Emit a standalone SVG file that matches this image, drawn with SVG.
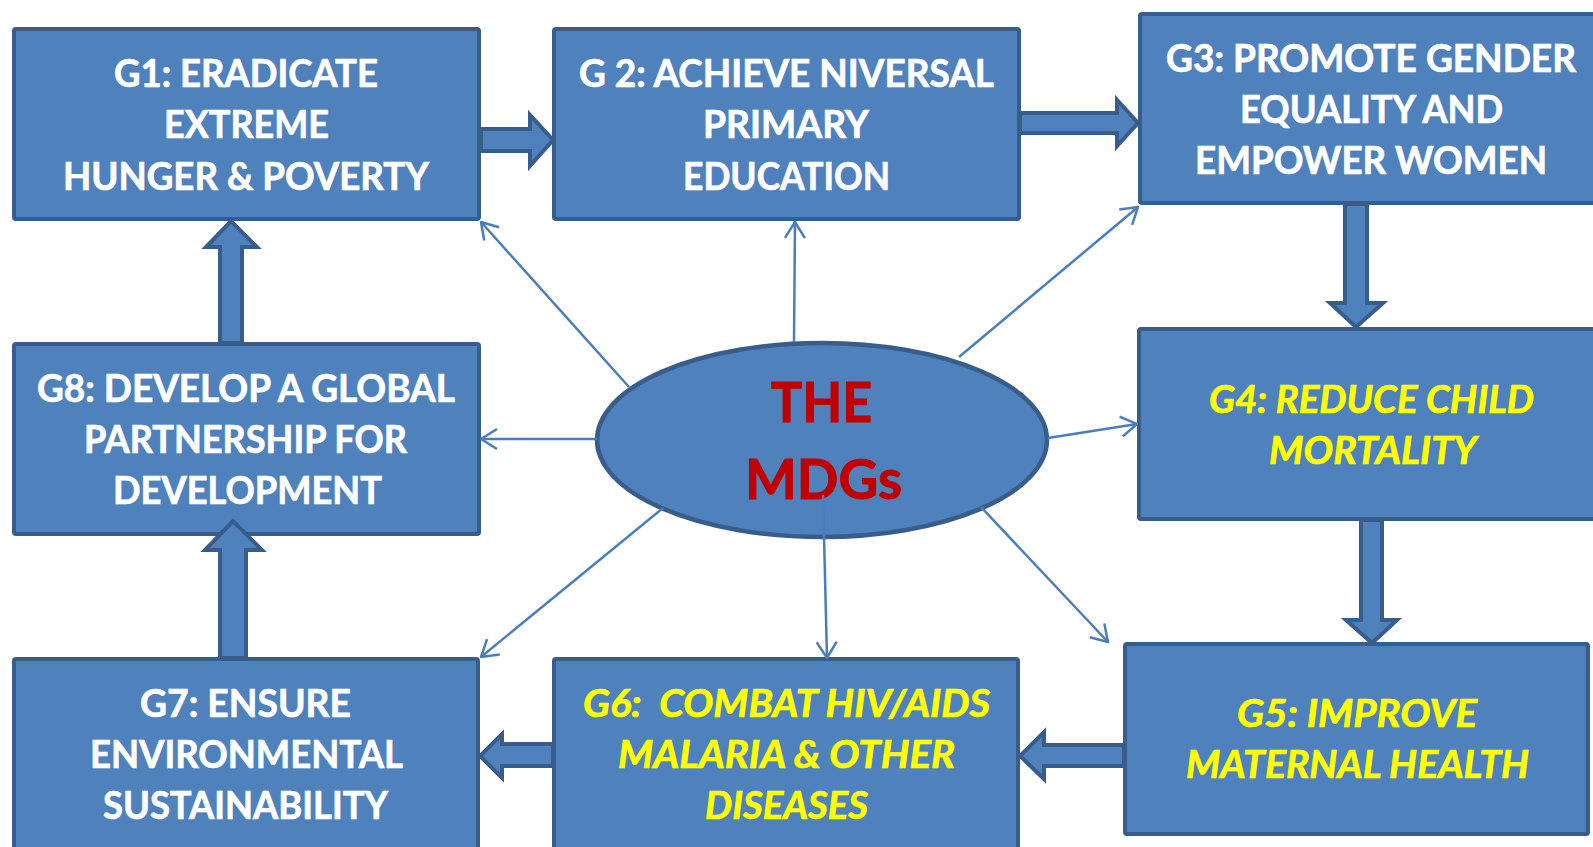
<svg xmlns="http://www.w3.org/2000/svg" width="1593" height="847" viewBox="0 0 1593 847">
<style>
.box{fill:#4F81BD;stroke:#385D8A;stroke-width:4}
.blk{fill:#4F81BD;stroke:#385D8A;stroke-width:4;stroke-linejoin:miter}
.t{font-family:Lato,"Open Sans","Liberation Sans",sans-serif;font-weight:bold;font-size:38px;text-anchor:middle;fill:#FFFFFF;stroke:#FFFFFF;stroke-width:0.7}
.y{fill:#FFFF00;stroke:#FFFF00;font-style:italic}
.m{font-family:Lato,"Open Sans","Liberation Sans",sans-serif;font-weight:bold;font-size:56px;text-anchor:middle;fill:#C00000;stroke:#C00000;stroke-width:1}
.con{fill:none;stroke:#4A7EBB;stroke-width:2.5}
</style>
<defs>
<marker id="open" viewBox="0 0 18 22" refX="17" refY="11" markerWidth="18" markerHeight="22" markerUnits="userSpaceOnUse" orient="auto">
<path d="M1,1 L17,11 L1,21" fill="none" stroke="#4A7EBB" stroke-width="2.5"/>
</marker>
</defs>
<rect width="1593" height="847" fill="#FFFFFF"/>

<g id="G1">
<rect class="box" x="14" y="29" width="465" height="190" rx="2"/>
<text class="t" x="246" y="87" textLength="264" lengthAdjust="spacingAndGlyphs">G1: ERADICATE</text>
<text class="t" x="246.5" y="138" textLength="165" lengthAdjust="spacingAndGlyphs">EXTREME</text>
<text class="t" x="246" y="190" textLength="366" lengthAdjust="spacingAndGlyphs">HUNGER &amp; POVERTY</text>
</g>
<g id="G2">
<rect class="box" x="554" y="29" width="465" height="190" rx="2"/>
<text class="t" x="786.5" y="87" textLength="415" lengthAdjust="spacingAndGlyphs">G 2: ACHIEVE NIVERSAL</text>
<text class="t" x="786" y="138" textLength="166" lengthAdjust="spacingAndGlyphs">PRIMARY</text>
<text class="t" x="786.5" y="190" textLength="207" lengthAdjust="spacingAndGlyphs">EDUCATION</text>
</g>
<g id="G3">
<rect class="box" x="1140" y="14" width="470" height="189" rx="2"/>
<text class="t" x="1371" y="72" textLength="410" lengthAdjust="spacingAndGlyphs">G3: PROMOTE GENDER</text>
<text class="t" x="1371.5" y="123" textLength="263" lengthAdjust="spacingAndGlyphs">EQUALITY AND</text>
<text class="t" x="1371" y="174" textLength="352" lengthAdjust="spacingAndGlyphs">EMPOWER WOMEN</text>
</g>
<g id="G4">
<rect class="box" x="1139" y="329" width="470" height="190" rx="2"/>
<text class="t y" x="1371.5" y="413" textLength="325" lengthAdjust="spacingAndGlyphs">G4: REDUCE CHILD</text>
<text class="t y" x="1373" y="464" textLength="208" lengthAdjust="spacingAndGlyphs">MORTALITY</text>
</g>
<g id="G5">
<rect class="box" x="1125" y="644" width="463" height="190" rx="2"/>
<text class="t y" x="1357" y="727" textLength="240" lengthAdjust="spacingAndGlyphs">G5: IMPROVE</text>
<text class="t y" x="1357.5" y="778" textLength="343" lengthAdjust="spacingAndGlyphs">MATERNAL HEALTH</text>
</g>
<g id="G6">
<rect class="box" x="554" y="659" width="464" height="200" rx="2"/>
<text class="t y" x="786.5" y="717" textLength="407" lengthAdjust="spacingAndGlyphs" style="white-space:pre">G6:  COMBAT HIV/AIDS</text>
<text class="t y" x="786.5" y="768" textLength="337" lengthAdjust="spacingAndGlyphs">MALARIA &amp; OTHER</text>
<text class="t y" x="786.5" y="819" textLength="163" lengthAdjust="spacingAndGlyphs">DISEASES</text>
</g>
<g id="G7">
<rect class="box" x="14" y="659" width="464" height="200" rx="2"/>
<text class="t" x="245.5" y="717" textLength="211" lengthAdjust="spacingAndGlyphs">G7: ENSURE</text>
<text class="t" x="246.5" y="768" textLength="313" lengthAdjust="spacingAndGlyphs">ENVIRONMENTAL</text>
<text class="t" x="245.5" y="819" textLength="285" lengthAdjust="spacingAndGlyphs">SUSTAINABILITY</text>
</g>
<g id="G8">
<rect class="box" x="14" y="344" width="465" height="190" rx="2"/>
<text class="t" x="246" y="402" textLength="418" lengthAdjust="spacingAndGlyphs">G8: DEVELOP A GLOBAL</text>
<text class="t" x="245.5" y="453" textLength="323" lengthAdjust="spacingAndGlyphs">PARTNERSHIP FOR</text>
<text class="t" x="247.5" y="504" textLength="269" lengthAdjust="spacingAndGlyphs">DEVELOPMENT</text>
</g>

<g id="flow-arrows">
<path class="blk" d="M481,129 H530 V115 L553,140 L530,166 V151 H481 Z"/>
<path class="blk" d="M1020,113 H1117 V100 L1138,123 L1117,146 V133 H1020 Z"/>
<path class="blk" d="M1345,204 V303 H1330 L1356,327 L1383,303 H1367 V204 Z"/>
<path class="blk" d="M1361,520 V620 H1346 L1372,643 L1397,620 H1382 V520 Z"/>
<path class="blk" d="M1124,745 H1044 V732 L1020,756 L1044,779 V766 H1124 Z"/>
<path class="blk" d="M553,744 H502 V734 L480,756 L502,778 V766 H553 Z"/>
<path class="blk" d="M220,658 V550 H205 L233,521 L262,550 H246 V658 Z"/>
<path class="blk" d="M220,343 V247 H206 L231,221 L257,247 H242 V343 Z"/>
</g>

<g id="MDGs">
<ellipse cx="822" cy="440" rx="225" ry="97" fill="#4F81BD" stroke="#385D8A" stroke-width="4.5"/>
<text class="m" x="821.5" y="422" textLength="101" lengthAdjust="spacingAndGlyphs">THE</text>
<text class="m" x="823.5" y="499" textLength="157" lengthAdjust="spacingAndGlyphs">MDGs</text>
</g>

<g id="connectors">
<line class="con" x1="629" y1="387" x2="481" y2="222" marker-end="url(#open)"/>
<line class="con" x1="794" y1="342" x2="795" y2="222" marker-end="url(#open)"/>
<line class="con" x1="959" y1="357" x2="1138" y2="207" marker-end="url(#open)"/>
<line class="con" x1="1048" y1="438" x2="1137" y2="424" marker-end="url(#open)"/>
<line class="con" x1="981" y1="507" x2="1108" y2="642" marker-end="url(#open)"/>
<line class="con" x1="823" y1="495" x2="827" y2="658" marker-end="url(#open)"/>
<line class="con" x1="663" y1="508" x2="481" y2="657" marker-end="url(#open)"/>
<line class="con" x1="597" y1="439" x2="481" y2="439" marker-end="url(#open)"/>
</g>
</svg>
